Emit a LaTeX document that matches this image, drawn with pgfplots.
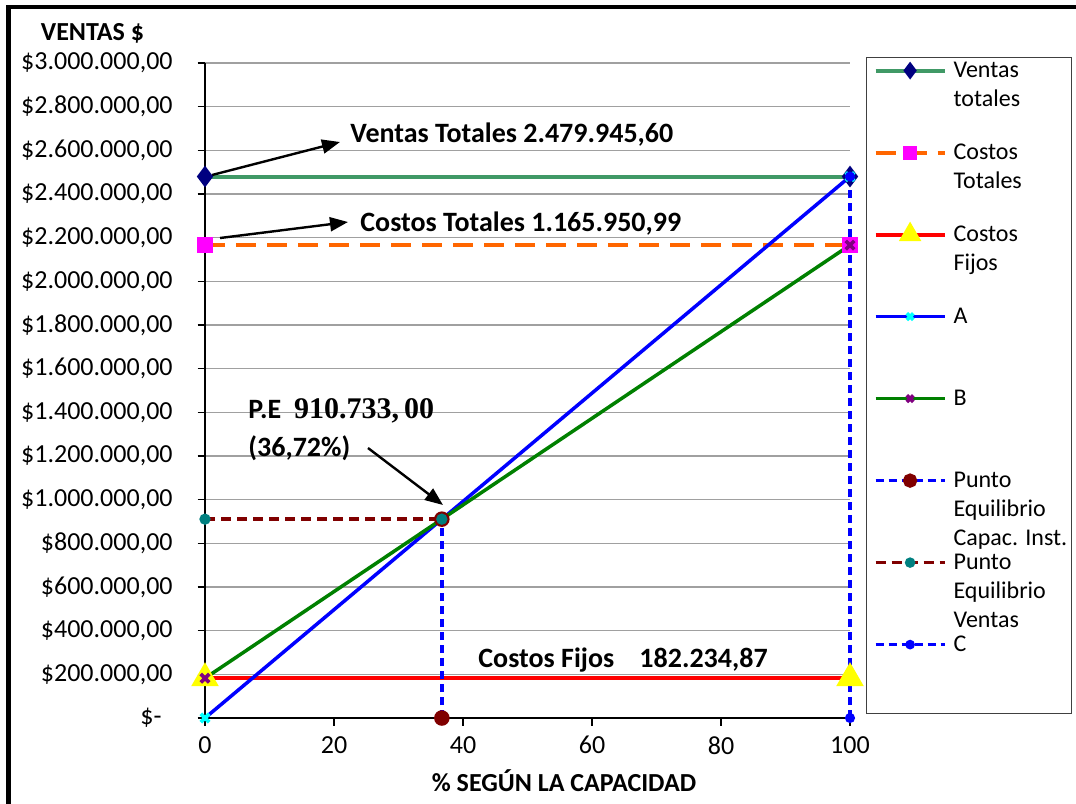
\documentclass[border=0pt]{standalone}
\usepackage[no-math]{fontspec}
\setmainfont{Carlito}
\newfontfamily\serifnum{Liberation Serif}
\usepackage{pgfplots}
\pgfplotsset{compat=1.18}
\usetikzlibrary{arrows.meta}
\definecolor{vgreen}{RGB}{64,153,102}
\definecolor{corange}{RGB}{255,102,0}
\definecolor{cred}{RGB}{255,0,0}
\definecolor{cblue}{RGB}{0,0,255}
\definecolor{bgreen}{RGB}{0,128,0}
\definecolor{cnavy}{RGB}{0,0,128}
\definecolor{cmag}{RGB}{255,0,255}
\definecolor{cyel}{RGB}{255,255,0}
\definecolor{ccyan}{RGB}{0,255,255}
\definecolor{cpurple}{RGB}{128,0,128}
\definecolor{cdred}{RGB}{128,0,0}
\definecolor{cteal}{RGB}{0,128,128}
\definecolor{cgrid}{RGB}{160,160,160}
\definecolor{lgframe}{RGB}{64,64,64}
\newcommand{\LE}[3]{\rule[-#2]{0pt}{\dimexpr#1+#2\relax}\smash{\raisebox{-3.5pt}{\makebox[55.5pt][l]{\begin{tabular}[t]{@{}l@{}}#3\end{tabular}}}}}
\begin{document}
\begin{tikzpicture}
\useasboundingbox (0,0) rectangle (538pt,-401.5pt);
\draw[line width=2.4pt] (4.25pt,-402pt) -- (4.25pt,-3.5pt) -- (540pt,-3.5pt);
\begin{axis}[
  at={(102.5pt,-359pt)}, anchor=south west,
  scale only axis, width=322.5pt, height=327.5pt,
  xmin=0, xmax=100, ymin=0, ymax=3000000,
  clip=false, scaled y ticks=false, scaled x ticks=false,
  axis x line*=bottom, axis y line*=left,
  axis line style={black, line width=0.75pt},
  tick align=outside, major tick length=3.75pt,
  tick style={black, line width=0.75pt},
  xtick={0,20,40,60,80,100},
  ytick={0,200000,400000,600000,800000,1000000,1200000,1400000,1600000,1800000,2000000,2200000,2400000,2600000,2800000,3000000},
  yticklabels={{\$-\kern5.5pt},{\$200.000,00},{\$400.000,00},{\$600.000,00},{\$800.000,00},{\$1.000.000,00},{\$1.200.000,00},{\$1.400.000,00},{\$1.600.000,00},{\$1.800.000,00},{\$2.000.000,00},{\$2.200.000,00},{\$2.400.000,00},{\$2.600.000,00},{\$2.800.000,00},{\$3.000.000,00}},
  /pgf/number format/assume math mode=true,
  tick label style={font=\fontsize{13}{15}\selectfont},
  yticklabel style={anchor=east, inner sep=0pt, xshift=-12.25pt},
  xticklabel style={anchor=north, inner sep=0pt, yshift=-5.25pt},
  ymajorgrids, grid style={cgrid, line width=0.75pt},
  legend image code/.code={\draw[mark repeat=2,mark phase=2,#1] plot coordinates {(0pt,0pt) (17.25pt,0pt) (34.5pt,0pt)};},
  legend style={at={(1.0248,1.00916)}, anchor=north west, draw=lgframe, line width=0.6pt,
    inner xsep=3.5pt, inner ysep=0pt, row sep=0pt, column sep=3.5pt,
    cells={anchor=base west}, nodes={inner sep=0pt, text depth=, text height=},
    font=\fontsize{12}{14.5}\selectfont, fill=white},
]
\addplot[vgreen, line width=2pt, mark=diamond*, mark size=3.8pt, mark options={solid, fill=cnavy, draw=cnavy}, legend image post style={mark size=2.8pt}] coordinates {(0,2479945.60) (100,2479945.60)};
\addlegendentry{\LE{6.5pt}{20.5pt}{Ventas\\totales}}
\addplot[corange, line width=2pt, dash pattern=on 10pt off 5.5pt, mark=square*, mark size=3pt, mark options={solid, fill=cmag, draw=cmag}, legend image post style={mark size=2.5pt}] coordinates {(0,2165950.99) (100,2165950.99)};
\addlegendentry{\LE{20.5pt}{20.5pt}{Costos\\Totales}}
\addplot[cred, line width=2pt, mark=triangle*, mark size=6pt, mark options={solid, fill=cyel, draw=cyel}, legend image post style={mark size=4.5pt}] coordinates {(0,182234.87) (100,182234.87)};
\addlegendentry{\LE{20.5pt}{20.5pt}{Costos\\Fijos}}
\addplot[cblue, line width=1.75pt, mark=x, mark size=3pt, mark options={solid, draw=ccyan, line width=1.8pt}, legend image post style={mark size=2.3pt}] coordinates {(0,0) (100,2479945.60)};
\addlegendentry{\LE{20.5pt}{20.5pt}{A}}
\addplot[bgreen, line width=1.75pt, mark=x, mark size=3pt, mark options={solid, draw=cpurple, line width=1.8pt}, legend image post style={mark size=2.3pt}] coordinates {(0,182234.87) (100,2165950.99)};
\addlegendentry{\LE{20.5pt}{20.5pt}{B}}
\addplot[cblue, line width=1.75pt, dash pattern=on 4pt off 2.5pt, mark=*, mark size=3pt, mark options={solid, fill=cdred, draw=cdred}, legend image post style={mark size=2.7pt}] coordinates {(36.72,0) (36.72,910733.00)};
\addlegendentry{\LE{20.5pt}{20.5pt}{Punto\\Equilibrio\\Capac. Inst.}}
\addplot[cdred, line width=1.75pt, dash pattern=on 5pt off 3pt, mark=*, mark size=1.9pt, mark options={solid, fill=cteal, draw=cteal}, legend image post style={mark size=1.7pt}] coordinates {(0,910733.00) (36.72,910733.00)};
\addlegendentry{\LE{20.5pt}{20.5pt}{Punto\\Equilibrio\\Ventas}}
\addplot[cblue, line width=1.75pt, dash pattern=on 4pt off 2.5pt, mark=*, mark size=1.6pt, mark options={solid, fill=cblue, draw=cblue}, legend image post style={mark size=1.5pt}] coordinates {(100,0) (100,2479945.60)};
\addlegendentry{\LE{20.5pt}{34.5pt}{C}}
\draw[black, line width=1.2pt, -{Triangle[length=9pt,width=7pt]}] (axis cs:1.085,2487000) -- (axis cs:20.93,2638168);
\node[anchor=west, inner sep=0pt, font=\bfseries\fontsize{14}{16}\selectfont] at (axis cs:22.48,2670228) {Ventas Totales 2.479.945,60};
\draw[black, line width=1.2pt, -{Triangle[length=9pt,width=7pt]}] (axis cs:2.33,2198472) -- (axis cs:22.17,2271754);
\node[anchor=west, inner sep=0pt, font=\bfseries\fontsize{14}{16}\selectfont] at (axis cs:24.03,2262594) {Costos Totales 1.165.950,99};
\node[anchor=west, inner sep=0pt, font=\bfseries\fontsize{14}{16}\selectfont] at (axis cs:6.67,1406106) {P.E\ \ {\serifnum\fontsize{15}{17}\selectfont 910.733,\,00}};
\node[anchor=west, inner sep=0pt, font=\bfseries\fontsize{14}{16}\selectfont] at (axis cs:6.67,1236640) {(36,72\%)};
\draw[black, line width=1.2pt, -{Triangle[length=9pt,width=7pt]}] (axis cs:25.27,1236640) -- (axis cs:36.9,975572);
\node[anchor=west, inner sep=0pt, font=\bfseries\fontsize{14}{16}\selectfont] at (axis cs:42.33,265649) {Costos Fijos\hspace{0.9em}182.234,87};
\end{axis}
\node[font=\bfseries\fontsize{13}{15}\selectfont] at (46.25pt,-16.75pt) {VENTAS \$};
\node[font=\bfseries\fontsize{13}{15}\selectfont] at (282pt,-390.5pt) {\% SEGÚN LA CAPACIDAD};
\end{tikzpicture}
\end{document}
